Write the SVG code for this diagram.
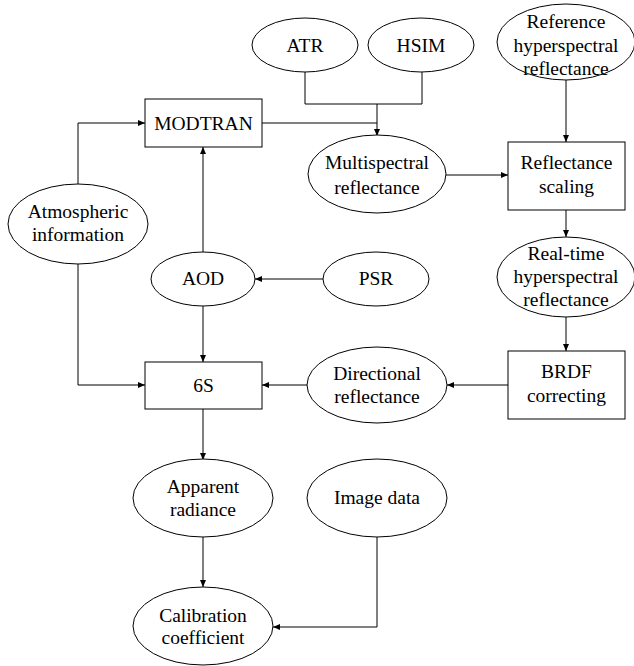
<svg xmlns="http://www.w3.org/2000/svg" width="634" height="666" viewBox="0 0 634 666">
<style>
  .n { fill: #fff; stroke: #000; stroke-width: 1; }
  .t { font-family: "Liberation Serif", "Times New Roman", serif; font-size: 19.5px; fill: #000; text-anchor: middle; }
  .c { fill: none; stroke: #000; stroke-width: 1; }
  .a { marker-end: url(#arr); }
</style>
<defs>
  <marker id="arr" markerUnits="userSpaceOnUse" markerWidth="8" markerHeight="6" refX="7" refY="3" orient="auto">
    <path d="M0,0 L7,3 L0,6 Z" fill="#000"/>
  </marker>
</defs>
<rect width="634" height="666" fill="#fff"/>
<g id="connectors">
  <path class="c" d="M305,72 V104 H422 V72"/>
  <path class="c a" d="M377,104 V136"/>
  <path class="c" d="M262,123 H377"/>
  <path class="c a" d="M566,80 V142"/>
  <path class="c a" d="M446,175 H508"/>
  <path class="c a" d="M566,210 V237"/>
  <path class="c a" d="M566,317 V351"/>
  <path class="c a" d="M508,385 H447"/>
  <path class="c a" d="M307,385 H262"/>
  <path class="c a" d="M323,279 H255"/>
  <path class="c a" d="M203,252 V147"/>
  <path class="c a" d="M203,306 V362"/>
  <path class="c a" d="M78,184 V123 H145"/>
  <path class="c a" d="M78,264 V385 H145"/>
  <path class="c a" d="M203,409 V460"/>
  <path class="c a" d="M203,537 V587"/>
  <path class="c a" d="M377,537 V627 H273"/>
</g>
<g id="atr"><ellipse class="n" cx="305" cy="45" rx="53" ry="27"/><text class="t" x="305" y="52">ATR</text></g>
<g id="hsim"><ellipse class="n" cx="421" cy="45" rx="53" ry="27"/><text class="t" x="421" y="52">HSIM</text></g>
<g id="reference"><ellipse class="n" cx="566" cy="42" rx="69" ry="38"/><text class="t" x="566" y="28">Reference</text><text class="t" x="566" y="52">hyperspectral</text><text class="t" x="566" y="75">reflectance</text></g>
<g id="modtran"><rect class="n" x="145" y="99" width="117" height="48"/><text class="t" x="203.5" y="130">MODTRAN</text></g>
<g id="multispectral"><ellipse class="n" cx="377" cy="174" rx="69" ry="39"/><text class="t" x="377" y="169">Multispectral</text><text class="t" x="377" y="194">reflectance</text></g>
<g id="scaling"><rect class="n" x="508" y="142" width="117" height="68"/><text class="t" x="566.5" y="169">Reflectance</text><text class="t" x="566.5" y="193">scaling</text></g>
<g id="atmospheric"><ellipse class="n" cx="78" cy="224" rx="70" ry="40"/><text class="t" x="78" y="218">Atmospheric</text><text class="t" x="78" y="241">information</text></g>
<g id="aod"><ellipse class="n" cx="203" cy="279" rx="52" ry="27"/><text class="t" x="203" y="285">AOD</text></g>
<g id="psr"><ellipse class="n" cx="376" cy="279" rx="53" ry="27"/><text class="t" x="376" y="285">PSR</text></g>
<g id="realtime"><ellipse class="n" cx="566" cy="277" rx="69" ry="40"/><text class="t" x="566" y="260">Real-time</text><text class="t" x="566" y="283">hyperspectral</text><text class="t" x="566" y="306">reflectance</text></g>
<g id="sixs"><rect class="n" x="145" y="362" width="117" height="47"/><text class="t" x="203.5" y="392">6S</text></g>
<g id="directional"><ellipse class="n" cx="377" cy="385" rx="70" ry="38"/><text class="t" x="377" y="380">Directional</text><text class="t" x="377" y="403">reflectance</text></g>
<g id="brdf"><rect class="n" x="508" y="351" width="117" height="68"/><text class="t" x="566.5" y="378">BRDF</text><text class="t" x="566.5" y="402">correcting</text></g>
<g id="apparent"><ellipse class="n" cx="203" cy="498" rx="70" ry="39"/><text class="t" x="203" y="493">Apparent</text><text class="t" x="203" y="516">radiance</text></g>
<g id="imagedata"><ellipse class="n" cx="377" cy="498" rx="70" ry="39"/><text class="t" x="377" y="504">Image data</text></g>
<g id="calibration"><ellipse class="n" cx="203" cy="626" rx="70" ry="39"/><text class="t" x="203" y="622">Calibration</text><text class="t" x="203" y="644">coefficient</text></g>
</svg>
